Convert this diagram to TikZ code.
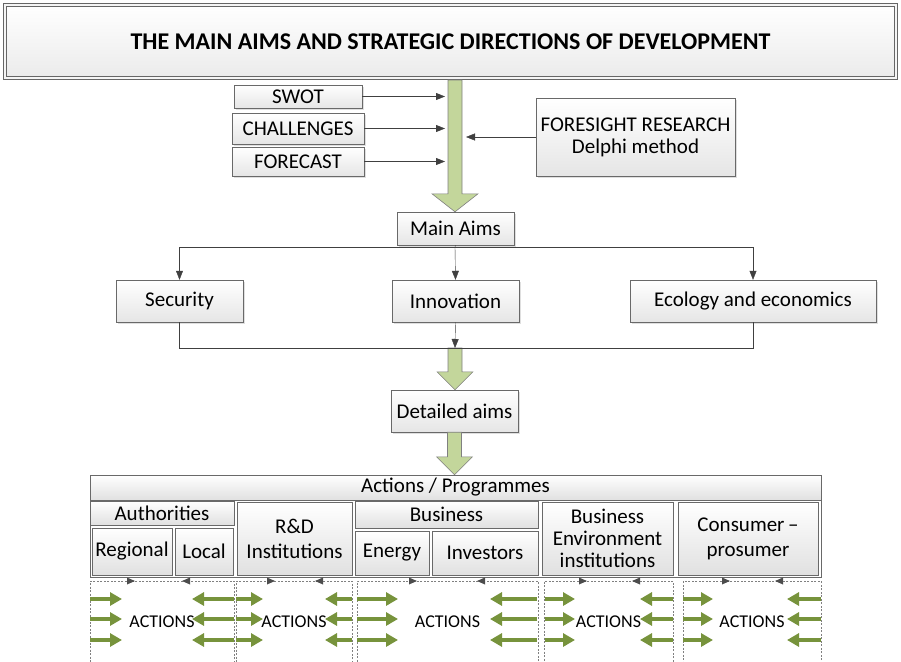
\documentclass[tikz,border=0pt]{standalone}
\usepackage{fontspec}
\setmainfont{Carlito}
\usetikzlibrary{arrows.meta,calc,shadows}

\definecolor{shaftgreen}{RGB}{195,214,155}
\definecolor{leafgreen}{RGB}{119,147,60}
\definecolor{framegray}{RGB}{105,105,105}

% thick green arrow from #2 down to #3, head half width #1
\newcommand{\fatarrow}[3][18]{%
  \filldraw[fat] let \p1=(#2), \p2=(#3) in
    (\x1-7pt,\y1) -- (\x1-7pt,\y2+18pt) -- (\x1-#1pt,\y2+18pt) -- (\x1,\y2)
    -- (\x1+#1pt,\y2+18pt) -- (\x1+7pt,\y2+18pt) -- (\x1+7pt,\y1) -- cycle;}

\begin{document}
\begin{tikzpicture}[x=1pt,y=-1pt,
    font=\fontsize{21}{22}\selectfont,
    box/.style={draw=framegray, top color=white, bottom color=black!10,
      inner sep=0pt, align=center,
      drop shadow={shadow xshift=2pt,shadow yshift=-2pt,opacity=.25}},
    cell/.style={draw=framegray, top color=white, bottom color=black!12,
      inner sep=0pt, align=center},
    actbox/.style={draw=black!50, dash pattern=on 2pt off 1.5pt,
      inner sep=0pt, minimum height=81, font=\fontsize{18}{20}\selectfont},
    conn/.style={draw=black!75, -{Triangle[length=9pt,width=7pt]}},
    fat/.style={fill=shaftgreen, draw=black!50, line width=0.6pt},
    leaf/.style={draw=leafgreen, line width=4.5pt,
      -{Triangle[length=12pt,width=13pt]}}]
  \useasboundingbox (0,0) rectangle (901,661);

  \coordinate (split) at (455,247);
  \coordinate (join) at (455,348);
  \coordinate (shaft) at (455,80);

  \node[draw=black!60, line width=.8pt, double=black!4, double distance=1.5pt,
    top color=white, bottom color=black!8, inner sep=0pt,
    minimum width=891, minimum height=73,
    font=\bfseries\fontsize{24}{28}\selectfont] (title) at (450.5,41.5)
    {THE MAIN AIMS AND STRATEGIC DIRECTIONS OF DEVELOPMENT};

  \node[box, minimum width=128, minimum height=23] (swot) at (298,96.5) {SWOT};
  \node[box, minimum width=132, minimum height=31] (chall) at (298,128.5) {CHALLENGES};
  \node[box, minimum width=132, minimum height=29] (forecast) at (298,161.5) {FORECAST};
  \node[box, minimum width=199, minimum height=78] (foresight) at (635.5,137)
    {FORESIGHT RESEARCH\\Delphi method};

  \node[box, minimum width=117, minimum height=33] (main) at (455.5,228.5) {Main Aims};
  \node[box, minimum width=127, minimum height=42] (security) at (179.5,301) {Security};
  \node[box, minimum width=127, minimum height=42] (innovation) at (455.5,301) {Innovation};
  \node[box, minimum width=246, minimum height=42] (ecology) at (753,301) {Ecology and economics};
  \node[box, minimum width=127, minimum height=42] (detail) at (454.5,411) {Detailed aims};

  \fatarrow[23]{shaft}{main.north}
  \fatarrow{join}{detail.north}

  % inputs to the main shaft
  \coordinate (inleft) at (445,0);
  \coordinate (inright) at (466,0);
  \draw[conn] (swot.east) -- (swot.east -| inleft);
  \draw[conn] (chall.east) -- (chall.east -| inleft);
  \draw[conn] (forecast.east) -- (forecast.east -| inleft);
  \draw[conn] (foresight.west) -- (foresight.west -| inright);

  % main aims split
  \draw[black!75] (main.south) -- (split);
  \draw[black!75] (security.north |- split) -- (ecology.north |- split);
  \draw[conn] (security.north |- split) -- (security.north);
  \draw[conn] (split) -- (innovation.north);
  \draw[conn] (ecology.north |- split) -- (ecology.north);

  \draw[black!75] (security.south) -- (security.south |- join)
    -- (ecology.south |- join) -- (ecology.south);
  \draw[conn] (innovation.south) -- (join);

  % actions / programmes table
  \draw[framegray] (90,475) rectangle (821,577);
  \node[cell, minimum width=731, minimum height=25] (programmes) at (455.5,487.5) {Actions / Programmes};
  \node[cell, minimum width=144, minimum height=24] (authorities) at (162,513) {Authorities};
  \node[cell, minimum width=80, minimum height=47] (regional) at (132,551.5) {Regional};
  \node[cell, minimum width=58, minimum height=47] (local) at (204,551.5) {Local};
  \node[cell, minimum width=115, minimum height=73] (rnd) at (294.5,538.5)
    {R\&D\\[3pt]Institutions};
  \node[cell, minimum width=183, minimum height=27] (business) at (446.5,514.5) {Business};
  \node[cell, minimum width=74, minimum height=44] (energy) at (392,553) {Energy};
  \node[cell, minimum width=106, minimum height=44] (investors) at (485,553) {Investors};
  \node[cell, minimum width=131, minimum height=73] (environment) at (607.5,538.5)
    {Business\\Environment\\institutions};
  \node[cell, minimum width=140, minimum height=73] (consumer) at (748,538.5)
    {Consumer\,--\\[3pt]prosumer};

  \fatarrow{detail.south}{programmes.north}

  % action fields
  \node[actbox, minimum width=144] (actauth) at (162,621.5) {ACTIONS};
  \node[actbox, minimum width=116] (actrnd) at (294,621.5) {ACTIONS};
  \node[actbox, minimum width=181] (actbus) at (447.5,621.5) {ACTIONS};
  \node[actbox, minimum width=129] (actenv) at (608.5,621.5) {ACTIONS};
  \node[actbox, minimum width=138] (actcons) at (752,621.5) {ACTIONS};

  \foreach \a/\b in {127/190,267/323,409/485,579/640,722/783}{
    \fill[black!70] (\a,577.5) -- (\a+8,581) -- (\a,584.5) -- cycle;
    \fill[black!70] (\b,577.5) -- (\b-8,581) -- (\b,584.5) -- cycle;
  }

  \foreach \l/\r/\e/\f in {90/122/234/192,236/263/352/325,357/398/537/490,
      545/575/673/640,683/713/821/787}{
    \foreach \y in {599,619,640}{
      \draw[leaf] (\l,\y) -- (\r,\y);
      \draw[leaf] (\e,\y) -- (\f,\y);
    }
  }
\end{tikzpicture}
\end{document}
